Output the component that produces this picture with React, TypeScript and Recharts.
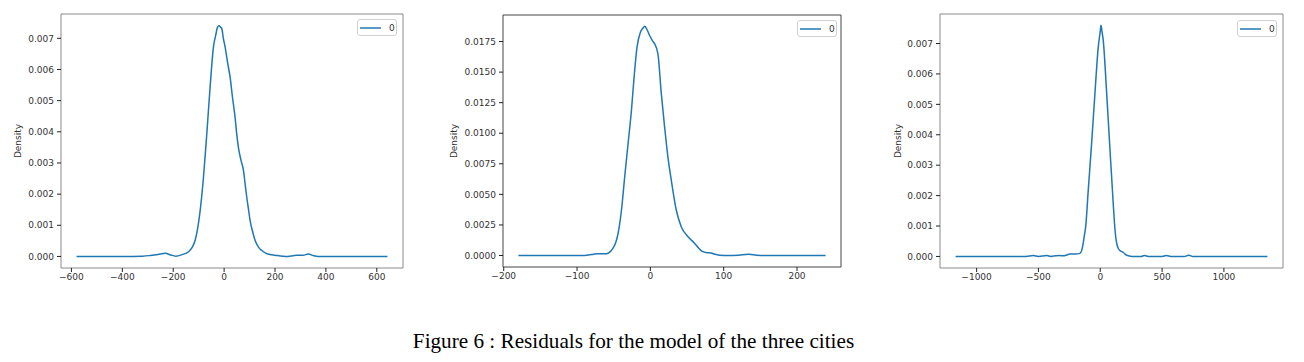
import React from 'react';
import { LineChart, Line, XAxis, YAxis, ReferenceArea, Legend } from 'recharts';

// ---- City 1 residual density ----
const city1X = [-580, -500, -400, -320, -290, -260, -231, -210, -190, -165, -140, -125, -114, -104, -94, -81, -68, -55, -42, -33, -26, -20, -13, -9, -3, 4, 14, 23.5, 33, 43, 50, 56, 66, 76, 83, 89, 96, 102, 112, 122, 135, 148, 165, 180, 200, 230, 250, 270, 285, 310, 331, 350, 370, 400, 500, 642];
const city1Y = [0, 0, 0, 0.00001, 0.00003, 0.00006, 0.0001, 0.00005, 0.00001, 0.00006, 0.00015, 0.0003, 0.00051, 0.0009, 0.00148, 0.00255, 0.00394, 0.00544, 0.00672, 0.0071, 0.00735, 0.0074, 0.00735, 0.00731, 0.007, 0.00672, 0.0062, 0.00576, 0.0051, 0.00447, 0.0039, 0.00351, 0.0031, 0.00276, 0.0023, 0.0019, 0.0015, 0.00116, 0.0008, 0.00051, 0.0003, 0.00019, 0.0001, 0.00006, 0.00004, 0.00001, 0, 0.00002, 0.00004, 0.00004, 0.00008, 0.00003, 0, 0, 0, 0];
const city1XTicks = [-600, -400, -200, 0, 200, 400, 600];
const city1YTicks = [0, 0.001, 0.002, 0.003, 0.004, 0.005, 0.006, 0.007];

// ---- City 2 residual density ----
const city2X = [-180, -140, -100, -90, -80, -73, -66, -60, -55, -51, -47, -44, -39.4, -35, -30.4, -25.8, -22.2, -18.2, -13.6, -10, -7.7, -4, -1, 3, 5.8, 10.3, 14.9, 19.4, 23.9, 28.5, 35.3, 42.1, 51.1, 60.2, 66, 70.7, 76, 82.9, 88, 94, 107.7, 120, 134, 145, 155, 200, 239];
const city2Y = [0, 0, 0, 0.00001, 0.00008, 0.00014, 0.00014, 0.00015, 0.0003, 0.0006, 0.0011, 0.00182, 0.00372, 0.00644, 0.00916, 0.01188, 0.01459, 0.01704, 0.01826, 0.0186, 0.01875, 0.0184, 0.01799, 0.01755, 0.01731, 0.0165, 0.01324, 0.01052, 0.00807, 0.00617, 0.00372, 0.00236, 0.00155, 0.00101, 0.0006, 0.00033, 0.00024, 0.0002, 0.0001, 0.00003, 0, 0.00003, 0.0001, 0.00003, 0, 0, 0];
const city2XTicks = [-200, -100, 0, 100, 200];
const city2YTicks = [0, 0.0025, 0.005, 0.0075, 0.01, 0.0125, 0.015, 0.0175];

// ---- City 3 residual density ----
const city3X = [-1170, -800, -600, -541, -500, -432, -400, -360, -330, -297, -270, -245, -200, -165, -150, -138, -128, -118, -97, -70, -43, -16, 0, 6, 14, 24, 52, 79, 105, 115, 125, 135, 146, 165, 187, 205, 227, 260, 330, 357, 390, 500, 535, 570, 680, 716, 750, 1000, 1352];
const city3Y = [0, 0, 0, 0.00003, 0, 0.00003, 0, 0.00002, 0.00003, 0.00002, 0.00005, 0.00008, 0.00008, 0.0001, 0.0002, 0.00043, 0.0007, 0.00097, 0.00218, 0.00371, 0.00536, 0.00689, 0.0074, 0.0076, 0.0074, 0.00711, 0.00536, 0.00349, 0.00174, 0.0011, 0.00064, 0.0004, 0.00026, 0.00018, 0.00013, 0.00006, 0.00002, 0, 0, 0.00003, 0, 0, 0.00003, 0, 0, 0.00004, 0, 0, 0];
const city3XTicks = [-1000, -500, 0, 500, 1000];
const city3YTicks = [0, 0.001, 0.002, 0.003, 0.004, 0.005, 0.006, 0.007];

const seriesName = '0';
const captionText = 'Figure 6 : Residuals for the model of the three cities';

const LINE_COLOR = '#1f77b4';
const TEXT_COLOR = '#333333';
const FONT = '"DejaVu Sans", sans-serif';

const toRows = (xs: number[], ys: number[]) => xs.map((x, i) => ({ x, v: ys[i] }));
const fmtX = (v: number) => String(v).replace('-', '\u2212');

const DensityLabel = (props: any) => {
  const vb = props.viewBox || {};
  const cx = props.labelX;
  const cy = (vb.y ?? 0) + (vb.height ?? 0) / 2;
  return (
    <text
      x={cx}
      y={cy}
      transform={`rotate(-90 ${cx} ${cy})`}
      textAnchor="middle"
      dominantBaseline="central"
      fontSize={9}
      fill={TEXT_COLOR}
      fontFamily={FONT}
    >
      Density
    </text>
  );
};

const LegendBox = (props: any) => {
  const item = (props.payload && props.payload[0]) || { value: seriesName, color: LINE_COLOR };
  return (
    <div
      style={{
        position: 'relative',
        boxSizing: 'border-box',
        width: 40,
        height: 17,
        border: '1px solid #d0d0d0',
        borderRadius: 3,
        background: '#fff',
      }}
    >
      <svg width={22} height={4} style={{ position: 'absolute', left: 2, top: 6 }}>
        <line x1={0} y1={2} x2={21} y2={2} stroke={item.color || LINE_COLOR} strokeWidth={1.5} />
      </svg>
      <span
        style={{
          position: 'absolute',
          left: 31,
          top: 1,
          fontSize: 9,
          lineHeight: '14px',
          fontFamily: FONT,
          color: TEXT_COLOR,
        }}
      >
        {item.value}
      </span>
    </div>
  );
};

type PanelProps = {
  left: number;
  width: number;
  margin: { top: number; right: number; bottom: number; left: number };
  yAxisWidth: number;
  xs: number[];
  ys: number[];
  xDomain: [number, number];
  yDomain: [number, number];
  xTicks: number[];
  yTicks: number[];
  yDigits: number;
  labelX: number;
  legendLeft: number;
  legendTop: number;
  spine: string;
};

const Panel = (p: PanelProps) => {
  const data = toRows(p.xs, p.ys);
  return (
    <div style={{ position: 'absolute', left: p.left, top: 0 }}>
      <LineChart width={p.width} height={300} data={data} margin={p.margin}>
        <XAxis
          dataKey="x"
          type="number"
          domain={p.xDomain}
          ticks={p.xTicks}
          interval={0}
          allowDataOverflow
          axisLine={false}
          tickLine={{ stroke: '#222' }}
          tickSize={4}
          tickMargin={2}
          height={30}
          tickFormatter={fmtX}
          tick={{ fontSize: 9, fill: TEXT_COLOR, fontFamily: FONT }}
        />
        <YAxis
          type="number"
          domain={p.yDomain}
          ticks={p.yTicks}
          interval={0}
          allowDataOverflow
          axisLine={false}
          tickLine={{ stroke: '#222' }}
          tickSize={4}
          tickMargin={3}
          width={p.yAxisWidth}
          tickFormatter={(v: number) => v.toFixed(p.yDigits)}
          tick={{ fontSize: 9, fill: TEXT_COLOR, fontFamily: FONT }}
          label={<DensityLabel labelX={p.labelX} />}
        />
        <ReferenceArea
          x1={p.xDomain[0]}
          x2={p.xDomain[1]}
          y1={p.yDomain[0]}
          y2={p.yDomain[1]}
          fill="none"
          fillOpacity={0}
          stroke={p.spine}
          strokeWidth={1}
          ifOverflow="visible"
        />
        <Legend
          layout="vertical"
          align="center"
          verticalAlign="middle"
          content={<LegendBox />}
          wrapperStyle={{ position: 'absolute', left: p.legendLeft, top: p.legendTop, width: 'auto', height: 'auto' }}
        />
        <Line
          type="monotone"
          dataKey="v"
          name={seriesName}
          stroke={LINE_COLOR}
          strokeWidth={1.5}
          dot={false}
          activeDot={false}
          isAnimationActive={false}
        />
      </LineChart>
    </div>
  );
};

export default function App() {
  return (
    <div style={{ position: 'absolute', left: 0, top: 0, width: 1304, height: 362, background: '#fff' }}>
      <Panel
        left={0}
        width={430}
        margin={{ top: 14, right: 27, bottom: 2, left: 11 }}
        yAxisWidth={50}
        xs={city1X}
        ys={city1Y}
        xDomain={[-641, 703]}
        yDomain={[-0.00037, 0.00778]}
        xTicks={city1XTicks}
        yTicks={city1YTicks}
        yDigits={3}
        labelX={18}
        legendLeft={357}
        legendTop={19}
        spine="#8a8a8a"
      />
      <Panel
        left={440}
        width={430}
        margin={{ top: 15, right: 29, bottom: 3, left: 8 }}
        yAxisWidth={55}
        xs={city2X}
        ys={city2Y}
        xDomain={[-201, 260]}
        yDomain={[-0.00094, 0.01967]}
        xTicks={city2XTicks}
        yTicks={city2YTicks}
        yDigits={4}
        labelX={14}
        legendLeft={357}
        legendTop={20}
        spine="#444444"
      />
      <Panel
        left={880}
        width={420}
        margin={{ top: 14, right: 17, bottom: 2, left: 10 }}
        yAxisWidth={50}
        xs={city3X}
        ys={city3Y}
        xDomain={[-1296, 1478]}
        yDomain={[-0.00038, 0.00797]}
        xTicks={city3XTicks}
        yTicks={city3YTicks}
        yDigits={3}
        labelX={18}
        legendLeft={357}
        legendTop={20}
        spine="#8a8a8a"
      />
      <div
        style={{
          position: 'absolute',
          left: 0,
          top: 331,
          width: 1267,
          textAlign: 'center',
          fontFamily: '"Liberation Serif", "Times New Roman", serif',
          fontSize: 21.2,
          lineHeight: '20px',
          color: '#000',
          whiteSpace: 'nowrap',
        }}
      >
        {captionText}
      </div>
    </div>
  );
}
